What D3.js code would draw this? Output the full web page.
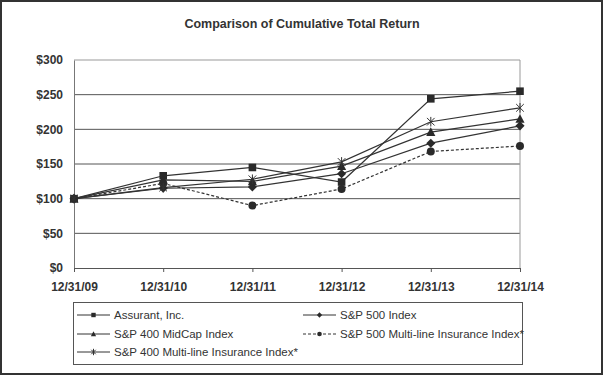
<!DOCTYPE html>
<html>
<head>
<meta charset="utf-8">
<script src="https://cdn.jsdelivr.net/npm/d3@7"></script>
<style>
  body { margin: 0; background: #fff; }
  svg { display: block; font-family: "Liberation Sans", Arial, sans-serif; }
</style>
</head>
<body>
<div id="container"></div>
<script>
// data
const dates = ["12/31/09", "12/31/10", "12/31/11", "12/31/12", "12/31/13", "12/31/14"];
const yTicks = [0, 50, 100, 150, 200, 250, 300];

const assurant = [100, 133, 145, 124, 244, 255];
const sp500 = [100, 115, 117, 136, 180, 205];
const midcap400 = [100, 127, 125, 147, 196, 215];
const sp500Multi = [100, 122, 90, 114, 168, 176];
const sp400Multi = [100, 116, 128, 153, 211, 231];

const series = [
    { name: "Assurant, Inc.", values: assurant, symbol: "square", dash: null },
    { name: "S&P 500 Index", values: sp500, symbol: "diamond", dash: null },
    { name: "S&P 400 MidCap Index", values: midcap400, symbol: "triangle", dash: null },
    { name: "S&P 500 Multi-line Insurance Index*", values: sp500Multi, symbol: "circle", dash: "3,2" },
    { name: "S&P 400 Multi-line Insurance Index*", values: sp400Multi, symbol: "asterisk", dash: null }
];

const width = 603, height = 375;
const plot = { left: 74, right: 520, top: 60, bottom: 268 };

const svg = d3.select("#container").append("svg")
    .attr("width", width)
    .attr("height", height);

svg.append("rect")
    .attr("x", 1).attr("y", 1)
    .attr("width", width - 2).attr("height", height - 2)
    .attr("fill", "#fff")
    .attr("stroke", "#333")
    .attr("stroke-width", 2);

svg.append("text")
    .attr("x", 302).attr("y", 28)
    .attr("text-anchor", "middle")
    .attr("font-size", 12.5)
    .attr("font-weight", "bold")
    .attr("fill", "#333")
    .text("Comparison of Cumulative Total Return");

const x = d3.scalePoint().domain(dates).range([plot.left, plot.right]);
const y = d3.scaleLinear().domain([0, 300]).range([plot.bottom, plot.top]);

// grid lines
svg.append("g")
    .selectAll("line")
    .data(yTicks.filter(d => d > 0 && d < 300))
    .join("line")
    .attr("x1", plot.left).attr("x2", plot.right)
    .attr("y1", d => y(d)).attr("y2", d => y(d))
    .attr("stroke", "#555")
    .attr("stroke-width", 1);

// plot frame (top / right)
svg.append("path")
    .attr("d", `M${plot.left},${plot.top}H${plot.right}V${plot.bottom}`)
    .attr("fill", "none")
    .attr("stroke", "#999")
    .attr("stroke-width", 1);

// y axis
const yAxis = svg.append("g")
    .attr("transform", `translate(${plot.left},0)`)
    .call(d3.axisLeft(y).tickValues(yTicks).tickSize(0).tickPadding(11).tickFormat(d => "$" + d));
yAxis.select(".domain").attr("stroke", "#777");
yAxis.selectAll("text")
    .attr("font-size", 12)
    .attr("font-weight", "bold")
    .attr("fill", "#333")
    .attr("font-family", "'Liberation Sans', Arial, sans-serif");

// x axis
const xAxis = svg.append("g")
    .attr("transform", `translate(0,${plot.bottom})`)
    .call(d3.axisBottom(x).tickSize(4).tickPadding(10).tickSizeOuter(0));
xAxis.select(".domain").attr("stroke", "#555");
xAxis.selectAll(".tick line").attr("stroke", "#555");
xAxis.selectAll("text")
    .attr("font-size", 12)
    .attr("font-weight", "bold")
    .attr("fill", "#333")
    .attr("font-family", "'Liberation Sans', Arial, sans-serif");

// markers drawn as small paths around (cx, cy), r = half size
function markerPath(kind, cx, cy, r) {
    switch (kind) {
        case "square":
            return `M${cx - r},${cy - r}h${2 * r}v${2 * r}h${-2 * r}Z`;
        case "diamond":
            return `M${cx},${cy - r * 1.2}L${cx + r * 1.2},${cy}L${cx},${cy + r * 1.2}L${cx - r * 1.2},${cy}Z`;
        case "triangle":
            return `M${cx},${cy - r * 1.25}L${cx + r * 1.2},${cy + r}L${cx - r * 1.2},${cy + r}Z`;
        case "circle":
            return d3.symbol(d3.symbolCircle, Math.PI * r * r * 1.1)().replace(/^M/, "M") ;
    }
}

function drawMarker(g, kind, cx, cy, r) {
    if (kind === "asterisk") {
        g.append("path")
            .attr("d", `M${cx - r},${cy - r}L${cx + r},${cy + r}M${cx - r},${cy + r}L${cx + r},${cy - r}M${cx},${cy - r - 1}V${cy + r + 1}`)
            .attr("stroke", "#333")
            .attr("stroke-width", 1)
            .attr("fill", "none");
    } else if (kind === "circle") {
        g.append("circle")
            .attr("cx", cx).attr("cy", cy)
            .attr("r", r * 1.05)
            .attr("fill", "#2a2a2a");
    } else {
        g.append("path")
            .attr("d", markerPath(kind, cx, cy, r))
            .attr("fill", "#2a2a2a");
    }
}

const line = d3.line()
    .x((d, i) => x(dates[i]))
    .y(d => y(d));

const linesG = svg.append("g");
series.forEach(s => {
    linesG.append("path")
        .datum(s.values)
        .attr("d", line)
        .attr("fill", "none")
        .attr("stroke", "#333")
        .attr("stroke-width", 1.2)
        .attr("stroke-dasharray", s.dash);
});
const marksG = svg.append("g");
series.forEach(s => {
    s.values.forEach((v, i) => drawMarker(marksG, s.symbol, x(dates[i]), y(v), 3.8));
});

// legend
const legend = svg.append("g");
legend.append("rect")
    .attr("x", 73.5).attr("y", 302.5)
    .attr("width", 449).attr("height", 62)
    .attr("fill", "#fff")
    .attr("stroke", "#555");

const legendPos = [
    [77, 315], [303, 315],
    [77, 334], [303, 334],
    [77, 352]
];
series.forEach((s, i) => {
    const [lx, ly] = legendPos[i];
    legend.append("line")
        .attr("x1", lx).attr("x2", lx + 33)
        .attr("y1", ly).attr("y2", ly)
        .attr("stroke", "#333")
        .attr("stroke-width", 1)
        .attr("stroke-dasharray", s.dash);
    drawMarker(legend, s.symbol, lx + 16.5, ly, 2.2);
    legend.append("text")
        .attr("x", lx + 37).attr("y", ly + 4)
        .attr("font-size", 11.5)
        .attr("fill", "#333")
        .text(s.name);
});
</script>
</body>
</html>
